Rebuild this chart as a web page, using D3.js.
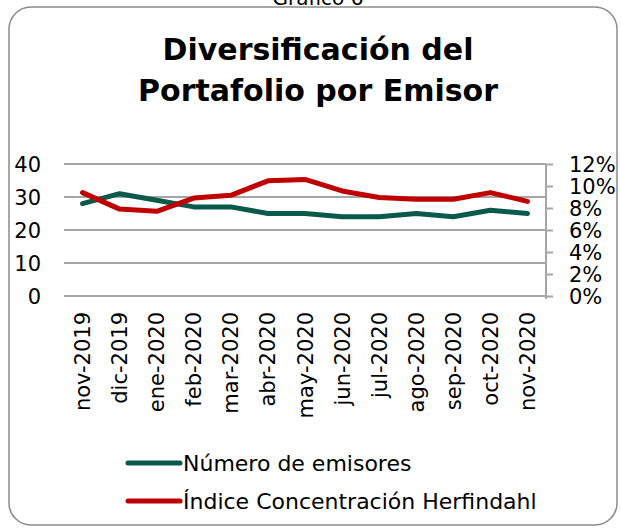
<!DOCTYPE html>
<html>
<head>
<meta charset="utf-8">
<script src="https://cdn.jsdelivr.net/npm/d3@7"></script>
<style>
  body { margin: 0; background: #fff; }
  text { font-family: "DejaVu Sans", sans-serif; fill: #000; }
</style>
</head>
<body>
<script>
var width = 621,
    height = 528;

// data
var months = ["nov-2019", "dic-2019", "ene-2020", "feb-2020", "mar-2020", "abr-2020", "may-2020",
              "jun-2020", "jul-2020", "ago-2020", "sep-2020", "oct-2020", "nov-2020"];
var emisores = [28, 31, 29, 27, 27, 25, 25, 24, 24, 25, 24, 26, 25];
var herfindahl = [0.094, 0.079, 0.077, 0.089, 0.0915, 0.1047, 0.106, 0.0955, 0.0896, 0.088, 0.088, 0.094, 0.086];
var leftTicks = [0, 10, 20, 30, 40];
var rightTicks = [0, 0.02, 0.04, 0.06, 0.08, 0.10, 0.12];
var seriesNames = ["Número de emisores", "Índice Concentración Herfindahl"];
var seriesColors = ["#0a5a4c", "#c00000"];

var svg = d3.select('body').append('svg')
    .attr('width', width)
    .attr('height', height);

/* outer frame */
svg.append('rect')
    .attr('x', 9).attr('y', 7)
    .attr('width', 608).attr('height', 518)
    .attr('rx', 22).attr('ry', 22)
    .style('fill', 'none')
    .style('stroke', '#8c8c8c')
    .style('stroke-width', 1.5);

svg.append('text')
    .attr('x', 318).attr('y', 5)
    .attr('text-anchor', 'middle')
    .style('font-size', '20px')
    .text('Gráfico 6');

var title = svg.append('text')
    .attr('text-anchor', 'middle')
    .style('font-size', '30px')
    .style('font-weight', 'bold');
title.append('tspan').attr('x', 318).attr('y', 60).text('Diversificación del');
title.append('tspan').attr('x', 318).attr('y', 101).text('Portafolio por Emisor');

var plotLeft = 64, plotRight = 546, plotTop = 164, plotBottom = 296;

var x = d3.scaleBand()
    .domain(months)
    .range([plotLeft, plotRight]);

var y = d3.scaleLinear()
    .domain([0, 40])
    .range([plotBottom, plotTop]);

var y2 = d3.scaleLinear()
    .domain([0, 0.12])
    .range([plotBottom, plotTop]);

/* gridlines */
svg.append('g')
    .selectAll('line')
    .data(leftTicks)
    .enter().append('line')
    .attr('x1', plotLeft).attr('x2', plotRight)
    .attr('y1', function(d) { return y(d); })
    .attr('y2', function(d) { return y(d); })
    .style('stroke', '#a6a6a6')
    .style('stroke-width', 2);

/* left axis labels */
var yAxis = svg.append('g')
    .attr('transform', 'translate(41,0)')
    .call(d3.axisLeft(y).tickValues(leftTicks).tickSize(0).tickPadding(0));
yAxis.select('.domain').remove();
yAxis.selectAll('text').style('font-size', '21px').attr('dy', '0.36em');

/* right axis */
var y2Axis = svg.append('g')
    .attr('transform', 'translate(' + plotRight + ',0)')
    .call(d3.axisRight(y2).tickValues(rightTicks).tickSize(7).tickPadding(16)
        .tickFormat(d3.format('.0%')));
y2Axis.select('.domain').style('stroke', '#a6a6a6').style('stroke-width', 2)
    .attr('d', 'M0,' + plotTop + 'V' + (plotBottom + 3));
y2Axis.selectAll('.tick line').style('stroke', '#a6a6a6').style('stroke-width', 2);
y2Axis.selectAll('text').style('font-size', '21px').attr('dy', '0.36em');

/* x labels */
var xAxis = svg.append('g')
    .attr('transform', 'translate(0,' + plotBottom + ')')
    .call(d3.axisBottom(x).tickSize(0).tickPadding(0));
xAxis.select('.domain').remove();
xAxis.selectAll('text')
    .style('font-size', '21px')
    .attr('text-anchor', 'end')
    .attr('transform', 'rotate(-90)')
    .attr('x', -16)
    .attr('y', 0)
    .attr('dy', '0.36em');

var cx = function(d, i) { return x(months[i]) + x.bandwidth() / 2; };

svg.append('path')
    .datum(emisores)
    .attr('d', d3.line().x(cx).y(function(d) { return y(d); }))
    .style('fill', 'none')
    .style('stroke', seriesColors[0])
    .style('stroke-width', 5)
    .style('stroke-linejoin', 'round')
    .style('stroke-linecap', 'round');

svg.append('path')
    .datum(herfindahl)
    .attr('d', d3.line().x(cx).y(function(d) { return y2(d); }))
    .style('fill', 'none')
    .style('stroke', seriesColors[1])
    .style('stroke-width', 5)
    .style('stroke-linejoin', 'round')
    .style('stroke-linecap', 'round');

/* legend */
var legend = svg.append('g')
    .selectAll('g')
    .data(seriesNames)
    .enter().append('g')
    .attr('transform', function(d, i) { return 'translate(128,' + (463 + i * 38) + ')'; });
legend.append('line')
    .attr('x1', 0).attr('x2', 52)
    .style('stroke', function(d, i) { return seriesColors[i]; })
    .style('stroke-width', 5)
    .style('stroke-linecap', 'round');
legend.append('text')
    .attr('x', 55)
    .attr('dy', '0.36em')
    .style('font-size', '22px')
    .text(function(d) { return d; });
</script>
</body>
</html>
